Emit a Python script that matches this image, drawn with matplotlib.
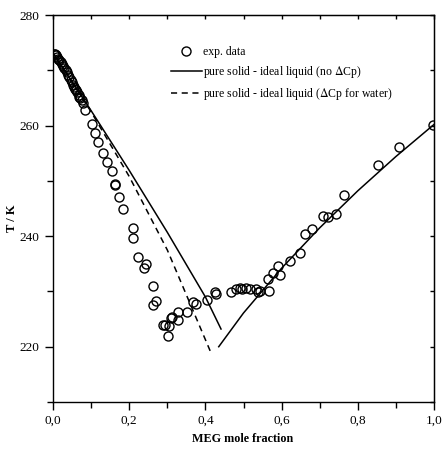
import matplotlib
matplotlib.use("Agg")
import matplotlib.pyplot as plt
from matplotlib.ticker import MultipleLocator, FuncFormatter

plt.rcParams['font.family'] = ['Liberation Serif', 'DejaVu Serif']
plt.rcParams['mathtext.fontset'] = 'stix'

# experimental data (MEG mole fraction, T/K)
exp_x = [0.002, 0.005, 0.008, 0.011, 0.014, 0.017, 0.020, 0.023, 0.026, 0.029,
         0.033, 0.036, 0.040, 0.043, 0.046, 0.049, 0.052, 0.055, 0.058, 0.061,
         0.064, 0.067, 0.069, 0.072, 0.075, 0.078, 0.084, 0.102, 0.110, 0.119,
         0.132, 0.141, 0.154, 0.163, 0.164, 0.174, 0.185, 0.209, 0.209, 0.224,
         0.239, 0.244, 0.262, 0.262, 0.271, 0.288, 0.294, 0.305, 0.303, 0.312,
         0.309, 0.329, 0.329, 0.351, 0.367, 0.376, 0.404, 0.426, 0.428, 0.466,
         0.481, 0.492, 0.496, 0.507, 0.516, 0.533, 0.539, 0.542, 0.568, 0.564,
         0.577, 0.590, 0.597, 0.623, 0.647, 0.662, 0.680, 0.708, 0.723, 0.743,
         0.764, 0.853, 0.909, 0.997]
exp_T = [273.0, 273.0, 272.7, 272.4, 272.1, 271.8, 271.5, 271.2, 270.8, 270.4,
         270.0, 269.7, 269.1, 268.7, 268.2, 267.8, 267.3, 267.0, 266.7, 266.4,
         266.1, 265.6, 265.2, 264.9, 264.6, 264.0, 262.8, 260.3, 258.6, 257.1,
         255.1, 253.5, 251.8, 249.2, 249.4, 247.1, 245.0, 241.5, 239.7, 236.3,
         234.3, 234.9, 231.0, 227.6, 228.2, 224.0, 223.9, 223.8, 221.9, 225.4,
         225.2, 224.9, 226.2, 226.2, 228.1, 227.8, 228.5, 229.9, 229.5, 229.9,
         230.5, 230.6, 230.5, 230.7, 230.5, 230.4, 229.9, 230.0, 230.0, 232.2,
         233.4, 234.6, 232.9, 235.5, 236.9, 240.3, 241.3, 243.7, 243.5, 244.0,
         247.5, 252.9, 256.1, 260.1]

# pure solid - ideal liquid (no dCp): ice branch and MEG branch
ice_x = [0.0, 0.1, 0.2, 0.3, 0.4, 0.441]
ice_T = [273.15, 262.7, 251.9, 240.7, 229.0, 223.2]
meg_x = [0.435, 0.5, 0.6, 0.7, 0.8, 0.9, 1.0]
meg_T = [220.0, 226.1, 234.2, 241.5, 248.2, 254.4, 260.2]

# pure solid - ideal liquid (dCp for water)
cp_x = [0.0, 0.1, 0.2, 0.3, 0.414]
cp_T = [273.15, 262.5, 250.8, 237.5, 219.0]

fig = plt.figure(figsize=(4.42, 4.53), dpi=100)
ax = fig.add_axes([53/442, 1-402/453, (434-53)/442, (402-15)/453])

ax.plot(exp_x, exp_T, linestyle='none', marker='o', markersize=6.5,
        markerfacecolor='none', markeredgecolor='black', markeredgewidth=1.0,
        label='exp. data')
ax.plot(ice_x, ice_T, color='black', linewidth=1.1,
        label=r'pure solid - ideal liquid (no $\Delta$Cp)')
ax.plot(meg_x, meg_T, color='black', linewidth=1.1)
ax.plot(cp_x, cp_T, color='black', linewidth=1.1, linestyle=(0, (4, 3)),
        label=r'pure solid - ideal liquid ($\Delta$Cp for water)')

ax.set_xlim(0, 1.0)
ax.set_ylim(210, 280)
ax.xaxis.set_major_locator(MultipleLocator(0.2))
ax.xaxis.set_minor_locator(MultipleLocator(0.1))
ax.yaxis.set_major_locator(MultipleLocator(20))
ax.yaxis.set_minor_locator(MultipleLocator(10))
ax.xaxis.set_major_formatter(FuncFormatter(lambda v, p: f"{v:.1f}".replace('.', ',')))
ax.yaxis.set_major_formatter(FuncFormatter(lambda v, p: f"{v:.0f}"))

ax.tick_params(which='both', direction='out', top=False, right=False,
               labelsize=9.5, width=1)
ax.tick_params(which='major', length=6)
ax.tick_params(which='minor', length=4)

# inward ticks on top and right
sec_x = ax.secondary_xaxis('top')
sec_x.xaxis.set_major_locator(MultipleLocator(0.1))
sec_x.tick_params(direction='in', length=3, width=1, labeltop=False)
sec_y = ax.secondary_yaxis('right')
sec_y.yaxis.set_major_locator(MultipleLocator(10))
sec_y.tick_params(direction='in', length=3, width=1, labelright=False)

for s in ax.spines.values():
    s.set_linewidth(1.0)

fig.text(243/442, 1-439/453, 'MEG mole fraction', fontsize=8.7,
         fontweight='bold', ha='center', va='center')
fig.text(12/442, 1-218/453, 'T / K', fontsize=9.0, fontweight='bold',
         ha='center', va='center', rotation=90)

leg = ax.legend(loc='upper left', bbox_to_anchor=(171/442, 1-46/453),
                bbox_transform=fig.transFigure, frameon=False, fontsize=8.5,
                handlelength=2.6, handletextpad=0.1, labelspacing=0.52,
                borderpad=0, borderaxespad=0)

fig.savefig('out.png', dpi=100)
